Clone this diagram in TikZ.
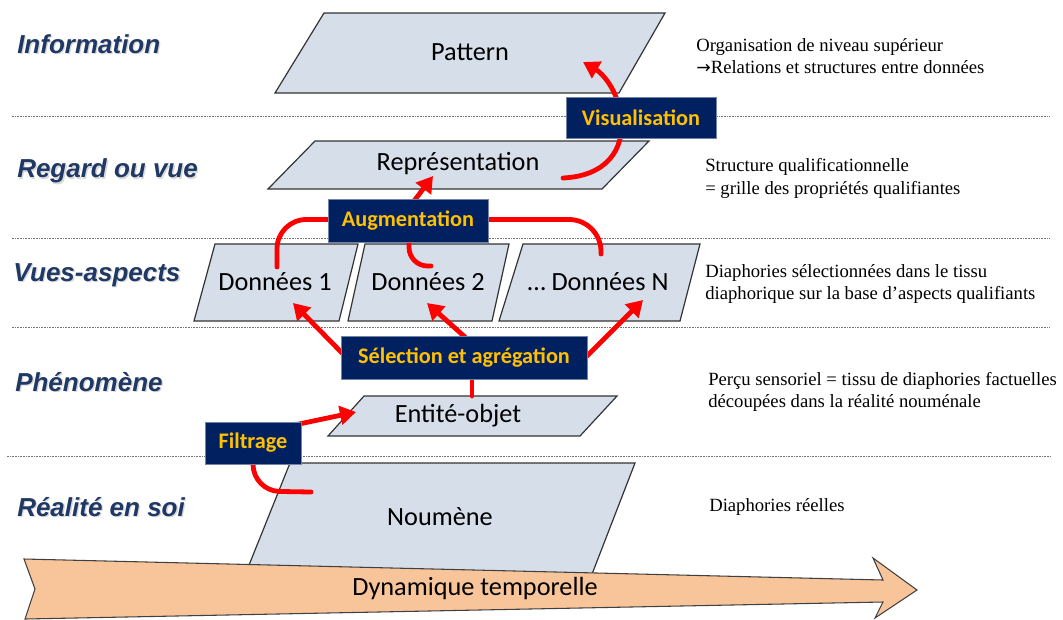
\documentclass[tikz,border=0pt]{standalone}
\usepackage{fontspec}
\setmainfont{Liberation Serif}
\newfontfamily\calib{Carlito}
\newfontfamily\arialf{Liberation Sans}
\newfontfamily\dejavu{DejaVu Sans}
\usetikzlibrary{arrows.meta}
\definecolor{navy}{HTML}{002060}
\definecolor{gold}{HTML}{FFC000}
\definecolor{lblue}{HTML}{1F3864}
\definecolor{parafill}{HTML}{D6DEEA}
\definecolor{peach}{HTML}{F8C49A}
\tikzset{
  para/.style={fill=parafill, draw=black!80, line width=0.9pt},
  paratext/.style={font=\calib\fontsize{19.7}{22}\selectfont, inner sep=0pt},
  procbox/.style={fill=navy, draw=navy!55!white, line width=0.6pt, font=\calib\bfseries\fontsize{16.7}{20}\selectfont, text=gold, inner sep=0pt},
  lvl/.style={font=\arialf\bfseries\itshape\fontsize{19.5}{22}\selectfont, text=lblue, anchor=west, inner sep=0pt},
  lvlshadow/.style={lvl, text=black!15},
  note/.style={font=\fontsize{14}{17}\selectfont, anchor=west, align=left, inner sep=0pt},
  sep/.style={draw=black!55, line width=0.6pt, dash pattern=on 1.2pt off 0.8pt},
  flow/.style={draw=red, line width=3.6pt, line cap=round},
  flowarrow/.style={flow, -{Triangle[length=12pt,width=14pt]}},
  bigarrow/.style={fill=peach, draw=black!75, line width=0.8pt, line join=miter},
}
\begin{document}
\begin{tikzpicture}[x=0.75pt, y=-0.75pt]
\useasboundingbox (0,0) rectangle (1063,619);

% separators
\draw[sep] (12,116) -- (1050,116);
\draw[sep] (12,238) -- (1050,238);
\draw[sep] (12,327) -- (1050,327);
\draw[sep] (7,456) -- (1050,456);

% level labels (shadow + text)
\foreach \t/\x/\y in {Information/17/44, Regard ou vue/17/171, Vues-aspects/13/275, Phénomène/15/382, Réalité en soi/17/507}{
  \node[lvlshadow] at (\x+1.3,\y+1.3) {\t};
}
\node[lvl] (lInfo) at (17,44) {Information};
\node[lvl] (lRegard) at (17,171) {Regard ou vue};
\node[lvl] (lVues) at (13,275) {Vues-aspects};
\node[lvl] (lPheno) at (15,382) {Phénomène};
\node[lvl] (lReal) at (17,507) {Réalité en soi};

% parallelograms
\draw[para] (324,13) -- (665,13) -- (619,93) -- (275,93) -- cycle;
\node[paratext] (pattern) at (470,52) {Pattern};
\draw[para] (315,141) -- (649,141) -- (602,189) -- (268,189) -- cycle;
\node[paratext] (repr) at (458,164) {Représentation};
\draw[para] (215,244) -- (358,244) -- (339,321) -- (194,321) -- cycle;
\node[paratext] (d1) at (275,282) {Données 1};
\draw[para] (365,244) -- (509,244) -- (492,321) -- (348,321) -- cycle;
\node[paratext] (d2) at (428,282) {Données 2};
\draw[para] (523,244) -- (700,244) -- (680,321) -- (499,321) -- cycle;
\node[paratext] (dN) at (598,282) {\dots{} Données N};
\draw[para] (364,396) -- (617,396) -- (580,436) -- (328,436) -- cycle;
\node[paratext] (entite) at (458,416) {Entité-objet};
\draw[para] (290,463) -- (635,463) -- (582,600) -- (235,600) -- cycle;
\node[paratext] (noumene) at (440,517) {Noumène};

% time arrow
\draw[bigarrow] (24,559) -- (883,580) -- (873,558) -- (917,590) -- (875,618) -- (883,602) -- (25,619) -- (35,589) -- cycle;
\node[paratext] (temps) at (475,588) {Dynamique temporelle};

% connector end points
\coordinate (visS) at (563,178);
\coordinate (visE) at (583,62);
\coordinate (d1top) at (277,267);
\coordinate (d2top) at (431,266);
\coordinate (dNtop) at (601,254);
\coordinate (reprBot) at (433,176);
\coordinate (d1bot) at (293,303);
\coordinate (d2bot) at (427,303);
\coordinate (dNbot) at (643,300);
\coordinate (entTop) at (472,396);
\coordinate (noumIn) at (311,492);
\coordinate (entLeft) at (356,412);

% process boxes (geometry)
\coordinate (visC) at (641,117.5);
\coordinate (augC) at (408,220.5);
\coordinate (selC) at (464,357.5);
\coordinate (filC) at (253,443);

% red flows
\draw[flowarrow] (visS) .. controls (606,176) and (625,150) .. (621,117) .. controls (618,90) and (602,73) .. (visE);
\draw[flow, rounded corners=22pt] (d1top) -- (277,219.5) -- (330,219.5);
\draw[flow, rounded corners=14pt] (409,240) -- (409,266) -- (d2top);
\draw[flow, rounded corners=24pt] (486,219.5) -- (601,219.5) -- (dNtop);
\draw[flowarrow] (414,201) -- (reprBot);
\draw[flowarrow] (343,354) -- (d1bot);
\draw[flowarrow] (465,337) -- (d2bot);
\draw[flowarrow] (585,358) -- (dNbot);
\draw[flow] (entTop) -- (472,377);
\draw[flow, rounded corners=20pt] (noumIn) -- (253,491) -- (253,462);
\draw[flowarrow] (299,424) -- (entLeft);

% process boxes
\node[procbox, minimum width=112.5pt, minimum height=30.75pt] (visu) at (visC) {Visualisation};
\node[procbox, minimum width=120pt, minimum height=32.25pt] (augm) at (augC) {Augmentation};
\node[procbox, minimum width=184.5pt, minimum height=32.25pt] (sel) at (selC) {Sélection et agrégation};
\node[procbox, minimum width=72pt, minimum height=31.5pt] (filt) at (filC) {Filtrage};

% notes
\node[note] (n1) at (696,56) {Organisation de niveau supérieur\\{\dejavu\fontsize{13}{17}\selectfont →}Relations et structures entre données};
\node[note] (n2) at (705,178.5) {Structure qualificationnelle\\= grille des propriétés qualifiantes};
\node[note] (n3) at (705,284) {Diaphories sélectionnées dans le tissu\\diaphorique sur la base d’aspects qualifiants};
\node[note] (n4) at (708,392) {Perçu sensoriel = tissu de diaphories factuelles\\découpées dans la réalité nouménale};
\node[note] (n5) at (709,507) {Diaphories réelles};
\end{tikzpicture}
\end{document}
